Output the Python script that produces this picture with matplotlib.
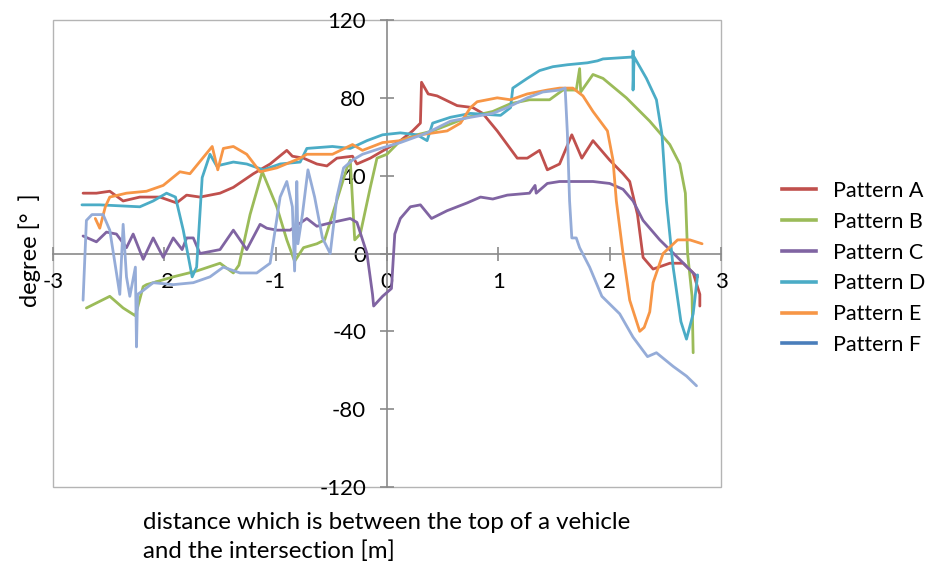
import matplotlib
matplotlib.use("Agg")
import matplotlib.pyplot as plt
from matplotlib.lines import Line2D
from matplotlib.patches import Rectangle

plt.rcParams['font.family'] = ['Lato', 'DejaVu Sans']

# ---------------- data ----------------
labels = ["Pattern A", "Pattern B", "Pattern C", "Pattern D", "Pattern E", "Pattern F"]
line_colors = ["#C0504D", "#9BBB59", "#8064A2", "#4BACC6", "#F79646", "#95ACD8"]
legend_colors = ["#C0504D", "#9BBB59", "#8064A2", "#4BACC6", "#F79646", "#4A7EBB"]

xticks = [-3, -2, -1, 0, 1, 2, 3]
yticks = [-120, -80, -40, 0, 40, 80, 120]

a_x = [-2.73, -2.61, -2.49, -2.37, -2.22, -2.04, -1.89, -1.80, -1.68, -1.50, -1.38, -1.20,
       -1.05, -0.90, -0.85, -0.75, -0.63, -0.54, -0.45, -0.31, -0.27, -0.15, 0.0, 0.12,
       0.23, 0.30, 0.31, 0.37, 0.45, 0.63, 0.77, 0.86, 0.99, 1.17, 1.26, 1.37, 1.44, 1.55,
       1.66, 1.75, 1.85, 2.00, 2.12, 2.18, 2.25, 2.30, 2.39, 2.54, 2.66, 2.75, 2.81, 2.81]
a_y = [31, 31, 32, 27, 29, 29, 26, 30, 29, 31, 34, 41,
       46, 53, 50, 49, 46, 45, 49, 50, 46, 49, 54, 58,
       63, 67, 88, 82, 81, 76, 75, 72, 63, 49, 49, 53, 43, 46,
       61, 49, 58, 48, 41, 37, 20, -2, -8, -5, -5, -10, -21, -27]

b_x = [-2.70, -2.49, -2.37, -2.26, -2.19, -2.16, -1.92, -1.71, -1.50, -1.38, -1.33, -1.23,
       -1.12, -0.99, -0.90, -0.83, -0.75, -0.63, -0.56, -0.49, -0.36, -0.33, -0.29, -0.24,
       -0.15, -0.09, 0.0, 0.12, 0.27, 0.41, 0.59, 0.72, 0.95, 1.11, 1.28, 1.46, 1.58, 1.70,
       1.73, 1.74, 1.85, 1.94, 2.15, 2.36, 2.54, 2.63, 2.68, 2.70, 2.74, 2.75]
b_y = [-28, -22, -28, -32, -17, -16, -12, -9, -5, -10, -6, 20,
       42, 24, 7, -4, 3, 5, 7, 20, 44, 48, 7, 10,
       34, 49, 51, 58, 61, 63, 67, 70, 73, 77, 79, 79, 84, 84,
       95, 83, 92, 90, 80, 68, 56, 46, 31, 0, -22, -51]

c_x = [-2.73, -2.61, -2.52, -2.43, -2.34, -2.28, -2.19, -2.10, -2.01, -1.92, -1.84, -1.80,
       -1.74, -1.68, -1.50, -1.38, -1.26, -1.14, -1.08, -0.99, -0.87, -0.72, -0.63, -0.49,
       -0.33, -0.27, -0.18, -0.13, -0.12, -0.04, 0.04, 0.07, 0.12, 0.21, 0.30, 0.40, 0.54,
       0.72, 0.84, 0.95, 1.08, 1.28, 1.33, 1.34, 1.44, 1.55, 1.85, 2.00, 2.12, 2.21, 2.30,
       2.45, 2.61, 2.75, 2.79]
c_y = [9, 6, 11, 10, 3, 10, -3, 8, -2, 8, 2, 8,
       8, 0, 2, 12, 2, 15, 13, 12, 12, 18, 14, 16,
       18, 16, 0, -21, -27, -22, -18, 10, 18, 24, 25, 18, 22,
       26, 29, 28, 30, 31, 35, 31, 36, 37, 37, 36, 33, 27, 17,
       7, -2, -10, -12]

d_x = [-2.74, -2.58, -2.22, -2.10, -1.98, -1.90, -1.83, -1.75, -1.71, -1.66, -1.59, -1.53,
       -1.38, -1.26, -1.11, -0.96, -0.78, -0.72, -0.49, -0.33, -0.18, -0.04, 0.12, 0.27,
       0.36, 0.41, 0.57, 0.75, 1.02, 1.11, 1.13, 1.26, 1.37, 1.49, 1.62, 1.80, 1.89, 1.94,
       2.21, 2.21, 2.21, 2.22, 2.33, 2.42, 2.47, 2.51, 2.57, 2.64, 2.69, 2.75, 2.79]
d_y = [25, 25, 24, 27, 31, 29, 12, -12, -7, 39, 51, 45,
       47, 46, 43, 46, 47, 54, 55, 54, 58, 61, 62, 61,
       58, 67, 70, 72, 71, 75, 85, 90, 94, 96, 97, 98, 99, 100,
       101, 104, 84, 101, 90, 79, 61, 27, -7, -35, -44, -31, -11]

e_x = [-2.62, -2.58, -2.53, -2.49, -2.34, -2.16, -2.01, -1.86, -1.77, -1.57, -1.52, -1.47,
       -1.38, -1.26, -1.14, -0.99, -0.78, -0.72, -0.49, -0.31, -0.22, -0.04, 0.12, 0.30,
       0.54, 0.66, 0.75, 0.81, 0.99, 1.11, 1.26, 1.44, 1.55, 1.67, 1.76, 1.85, 1.98, 2.03,
       2.06, 2.12, 2.18, 2.27, 2.31, 2.36, 2.39, 2.48, 2.61, 2.72, 2.83]
e_y = [18, 13, 24, 29, 31, 32, 35, 42, 41, 55, 43, 54,
       55, 51, 42, 44, 49, 51, 51, 56, 53, 57, 58, 61,
       63, 67, 75, 78, 80, 79, 82, 84, 85, 85, 81, 73, 63, 48,
       27, 0, -24, -40, -38, -30, -15, 0, 7, 7, 5]

f_x = [-2.73, -2.70, -2.65, -2.55, -2.49, -2.43, -2.40, -2.37, -2.34, -2.31, -2.26, -2.25,
       -2.24, -2.19, -2.10, -1.92, -1.74, -1.59, -1.47, -1.32, -1.17, -1.05, -0.96, -0.90,
       -0.85, -0.83, -0.81, -0.80, -0.76, -0.71, -0.65, -0.58, -0.51, -0.45, -0.39, -0.31,
       -0.22, -0.06, 0.12, 0.36, 0.57, 0.75, 0.95, 1.08, 1.26, 1.40, 1.55, 1.60, 1.62, 1.64,
       1.66, 1.70, 1.73, 1.82, 1.93, 2.09, 2.21, 2.34, 2.42, 2.57, 2.69, 2.78]
f_y = [-24, 17, 20, 20, 12, -10, -21, 15, -12, -22, -7, -48,
       -21, -19, -15, -16, -15, -12, -7, -10, -10, -5, 29, 37,
       24, -9, 37, 5, 20, 43, 29, 8, 0, 29, 44, 48,
       51, 54, 57, 62, 68, 70, 72, 75, 80, 83, 84, 85, 62, 27,
       8, 8, 3, -7, -22, -31, -43, -53, -51, -58, -63, -68]

series_x = [a_x, b_x, c_x, d_x, e_x, f_x]
series_y = [a_y, b_y, c_y, d_y, e_y, f_y]

# ---------------- figure ----------------
W, H = 928, 567
fig = plt.figure(figsize=(W / 100, H / 100), dpi=100)
ax = fig.add_axes([53 / W, 1 - 487 / H, (721 - 53) / W, (487 - 20) / H])

for xs, ys, c in zip(series_x, series_y, line_colors):
    ax.plot(xs, ys, color=c, lw=2.0, solid_joinstyle='round', solid_capstyle='round', zorder=3)

ax.set_xlim(-3, 3)
ax.set_ylim(-120, 120)
ax.set_xticks(xticks)
ax.set_yticks(yticks)
ax.set_xticklabels([str(v) for v in xticks])
ax.set_yticklabels([str(v) for v in yticks])

axis_gray = "#8A8A8A"
ax.spines['left'].set_position(('data', 0))
ax.spines['bottom'].set_position(('data', 0))
ax.spines['top'].set_visible(False)
ax.spines['right'].set_visible(False)
for s in ('left', 'bottom'):
    ax.spines[s].set_color(axis_gray)
    ax.spines[s].set_linewidth(1.2)
    ax.spines[s].set_zorder(2)

ax.tick_params(axis='both', direction='inout', length=10, width=1.2, color=axis_gray,
               labelsize=16, labelcolor='black')
ax.tick_params(axis='y', pad=10)
ax.tick_params(axis='x', pad=8)

ax.add_patch(Rectangle((0, 0), 1, 1, transform=ax.transAxes, fill=False,
                       edgecolor="#B4B4B4", lw=1.0, clip_on=False, zorder=1))

# axis titles
fig.text(143 / W, 1 - 537 / H, "distance which is between the top of a vehicle\nand the intersection [m]",
         ha='left', va='center', fontsize=17.3, linespacing=1.42)
fig.text(30 / W, 1 - 250 / H, "degree [°  ]", rotation=90, ha='center', va='center', fontsize=17)

# legend
handles = [Line2D([0], [0], color=c, lw=2.6) for c in legend_colors]
fig.legend(handles, labels, loc='upper left', bbox_to_anchor=(782 / W, 1 - 181 / H),
           frameon=False, fontsize=15.5, handlelength=1.6, handletextpad=0.75,
           labelspacing=0.5, borderaxespad=0, borderpad=0)

fig.savefig("out.png", dpi=100, facecolor='white')
